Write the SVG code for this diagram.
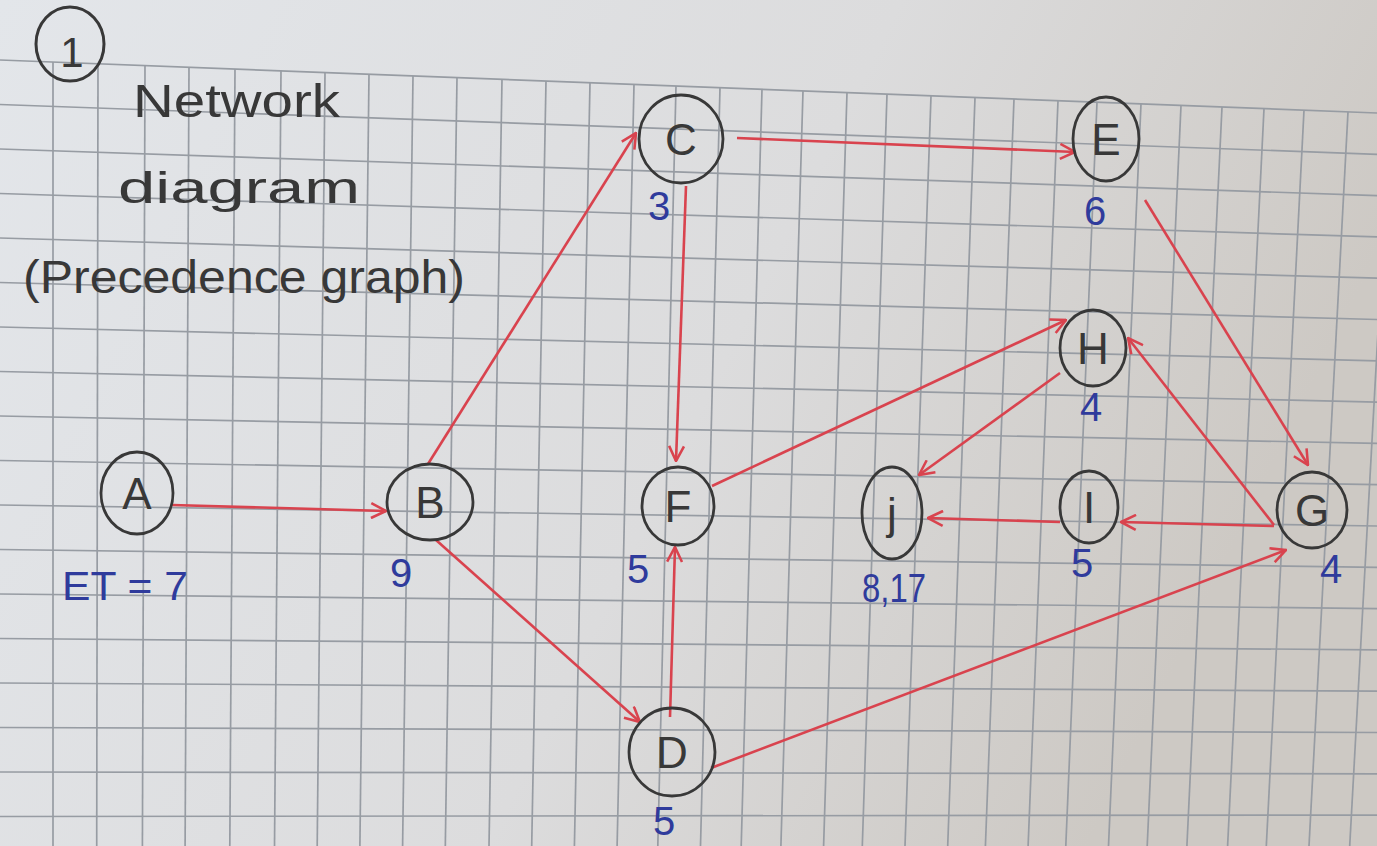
<svg xmlns="http://www.w3.org/2000/svg" width="1377" height="846" viewBox="0 0 1377 846">
<defs>
<linearGradient id="paper" x1="0" y1="0" x2="1" y2="0.3">
<stop offset="0" stop-color="#e3e6ea"/>
<stop offset="0.6" stop-color="#dcdcdd"/>
<stop offset="1" stop-color="#cdc9c4"/>
</linearGradient>
<style>
.grid line{stroke:#979ca3;stroke-width:1.7}
.node ellipse{fill:none;stroke:#383838;stroke-width:2.8}
.node text{font-family:"Liberation Sans",Arial,sans-serif;font-size:44px;fill:#383838;text-anchor:middle}
.edge{stroke:#d9434e;stroke-width:2.6;fill:none;marker-end:url(#arr)}
.lbl{font-family:"Liberation Sans",Arial,sans-serif;font-size:40px;fill:#2f3b9c}
.title{font-family:"Liberation Sans",Arial,sans-serif;fill:#383838}
</style>
<marker id="arr" viewBox="0 0 16 16" refX="15" refY="8" markerWidth="17" markerHeight="17" markerUnits="userSpaceOnUse" orient="auto">
<path d="M1,1 L15,8 L1,15" fill="none" stroke="#d9434e" stroke-width="2.4"/>
</marker>
</defs>
<rect x="0" y="0" width="1377" height="846" fill="url(#paper)"/>
<g class="grid">
<line x1="0" y1="60" x2="1377" y2="113"/><line x1="0" y1="104.5" x2="1377" y2="154.3"/><line x1="0" y1="149" x2="1377" y2="195.6"/><line x1="0" y1="193.5" x2="1377" y2="236.9"/><line x1="0" y1="238" x2="1377" y2="278.2"/><line x1="0" y1="282.5" x2="1377" y2="319.5"/><line x1="0" y1="327" x2="1377" y2="360.8"/><line x1="0" y1="371.5" x2="1377" y2="402.1"/><line x1="0" y1="416" x2="1377" y2="443.4"/><line x1="0" y1="460.5" x2="1377" y2="484.7"/><line x1="0" y1="505" x2="1377" y2="526"/><line x1="0" y1="549.5" x2="1377" y2="567.3"/><line x1="0" y1="594" x2="1377" y2="608.6"/><line x1="0" y1="638.5" x2="1377" y2="649.9"/><line x1="0" y1="683" x2="1377" y2="691.2"/><line x1="0" y1="727.5" x2="1377" y2="732.5"/><line x1="0" y1="772" x2="1377" y2="773.8"/><line x1="0" y1="816.5" x2="1377" y2="815.1"/>
<line x1="53" y1="62" x2="53" y2="846"/><line x1="98" y1="63.8" x2="96.7" y2="846"/><line x1="145" y1="65.6" x2="142.4" y2="846"/><line x1="189" y1="67.3" x2="185.1" y2="846"/><line x1="235" y1="69" x2="229.8" y2="846"/><line x1="281" y1="70.8" x2="274.5" y2="846"/><line x1="325" y1="72.5" x2="317.2" y2="846"/><line x1="369" y1="74.2" x2="359.9" y2="846"/><line x1="413" y1="75.9" x2="402.6" y2="846"/><line x1="457" y1="77.6" x2="445.3" y2="846"/><line x1="502" y1="79.3" x2="489" y2="846"/><line x1="546" y1="81" x2="531.7" y2="846"/><line x1="590" y1="82.7" x2="574.4" y2="846"/><line x1="634" y1="84.4" x2="617.1" y2="846"/><line x1="676" y1="86" x2="657.8" y2="846"/><line x1="720" y1="87.7" x2="700.5" y2="846"/><line x1="762" y1="89.3" x2="741.2" y2="846"/><line x1="803" y1="90.9" x2="780.9" y2="846"/><line x1="847" y1="92.6" x2="823.6" y2="846"/><line x1="887" y1="94.1" x2="862.3" y2="846"/><line x1="931" y1="95.8" x2="905" y2="846"/><line x1="975" y1="97.5" x2="947.7" y2="846"/><line x1="1014" y1="99" x2="985.4" y2="846"/><line x1="1058" y1="100.7" x2="1028.1" y2="846"/><line x1="1097" y1="102.2" x2="1065.8" y2="846"/><line x1="1141" y1="103.9" x2="1108.5" y2="846"/><line x1="1181" y1="105.5" x2="1147.2" y2="846"/><line x1="1222" y1="107" x2="1186.9" y2="846"/><line x1="1264" y1="108.7" x2="1227.6" y2="846"/><line x1="1304" y1="110.2" x2="1266.3" y2="846"/><line x1="1348" y1="111.9" x2="1309" y2="846"/><line x1="1390" y1="113.5" x2="1349.7" y2="846"/>
</g>
<g id="title">
<ellipse cx="70" cy="44" rx="34" ry="37" fill="none" stroke="#383838" stroke-width="3"/>
<text class="title" x="72" y="67" font-size="42" text-anchor="middle">1</text>
<text class="title" x="133" y="117" font-size="46" textLength="207" lengthAdjust="spacingAndGlyphs">Network</text>
<text class="title" x="118" y="203" font-size="44" textLength="242" lengthAdjust="spacingAndGlyphs">diagram</text>
<text class="title" x="23" y="293" font-size="46" textLength="442" lengthAdjust="spacingAndGlyphs">(Precedence graph)</text>
</g>
<g id="connectors">
<line class="edge" x1="172" y1="505" x2="386" y2="511"/>
<line class="edge" x1="428" y1="464" x2="636" y2="133"/>
<line class="edge" x1="436" y1="540" x2="640" y2="722"/>
<line class="edge" x1="737" y1="138" x2="1075" y2="152"/>
<line class="edge" x1="686" y1="186" x2="676" y2="461"/>
<line class="edge" x1="670" y1="717" x2="675" y2="547"/>
<line class="edge" x1="711" y1="768" x2="1286" y2="550"/>
<line class="edge" x1="1145" y1="200" x2="1308" y2="465"/>
<line class="edge" x1="712" y1="486" x2="1066" y2="320"/>
<line class="edge" x1="1274" y1="525" x2="1128" y2="338"/>
<line class="edge" x1="1060" y1="373" x2="919" y2="475"/>
<line class="edge" x1="1274" y1="526" x2="1121" y2="522"/>
<line class="edge" x1="1060" y1="522" x2="928" y2="518"/>
</g>
<g id="node-A" class="node"><ellipse cx="137" cy="493" rx="36" ry="41"/><text x="137" y="509">A</text></g>
<g id="node-B" class="node"><ellipse cx="430" cy="502" rx="43" ry="38"/><text x="430" y="518">B</text></g>
<g id="node-C" class="node"><ellipse cx="681" cy="139" rx="42" ry="44"/><text x="681" y="155">C</text></g>
<g id="node-E" class="node"><ellipse cx="1106" cy="139" rx="33" ry="42"/><text x="1106" y="155">E</text></g>
<g id="node-F" class="node"><ellipse cx="678" cy="506" rx="36" ry="39"/><text x="678" y="522">F</text></g>
<g id="node-D" class="node"><ellipse cx="672" cy="752" rx="43" ry="44"/><text x="672" y="768">D</text></g>
<g id="node-H" class="node"><ellipse cx="1093" cy="348" rx="33" ry="38"/><text x="1093" y="364">H</text></g>
<g id="node-J" class="node"><ellipse cx="892" cy="513" rx="30" ry="46"/><text x="892" y="529">j</text></g>
<g id="node-I" class="node"><ellipse cx="1089" cy="507" rx="29" ry="36"/><text x="1089" y="523">I</text></g>
<g id="node-G" class="node"><ellipse cx="1312" cy="510" rx="35" ry="38"/><text x="1312" y="526">G</text></g>
<g id="labels">
<text class="lbl" x="62" y="600" font-size="50" textLength="126" lengthAdjust="spacingAndGlyphs">ET = 7</text>
<text class="lbl" x="390" y="587" font-size="46">9</text>
<text class="lbl" x="648" y="220">3</text>
<text class="lbl" x="1084" y="225">6</text>
<text class="lbl" x="627" y="583" font-size="32">5</text>
<text class="lbl" x="653" y="835">5</text>
<text class="lbl" x="1080" y="421">4</text>
<text class="lbl" x="862" y="602" font-size="34" textLength="64" lengthAdjust="spacingAndGlyphs">8,17</text>
<text class="lbl" x="1071" y="577">5</text>
<text class="lbl" x="1320" y="583">4</text>
</g>
</svg>
